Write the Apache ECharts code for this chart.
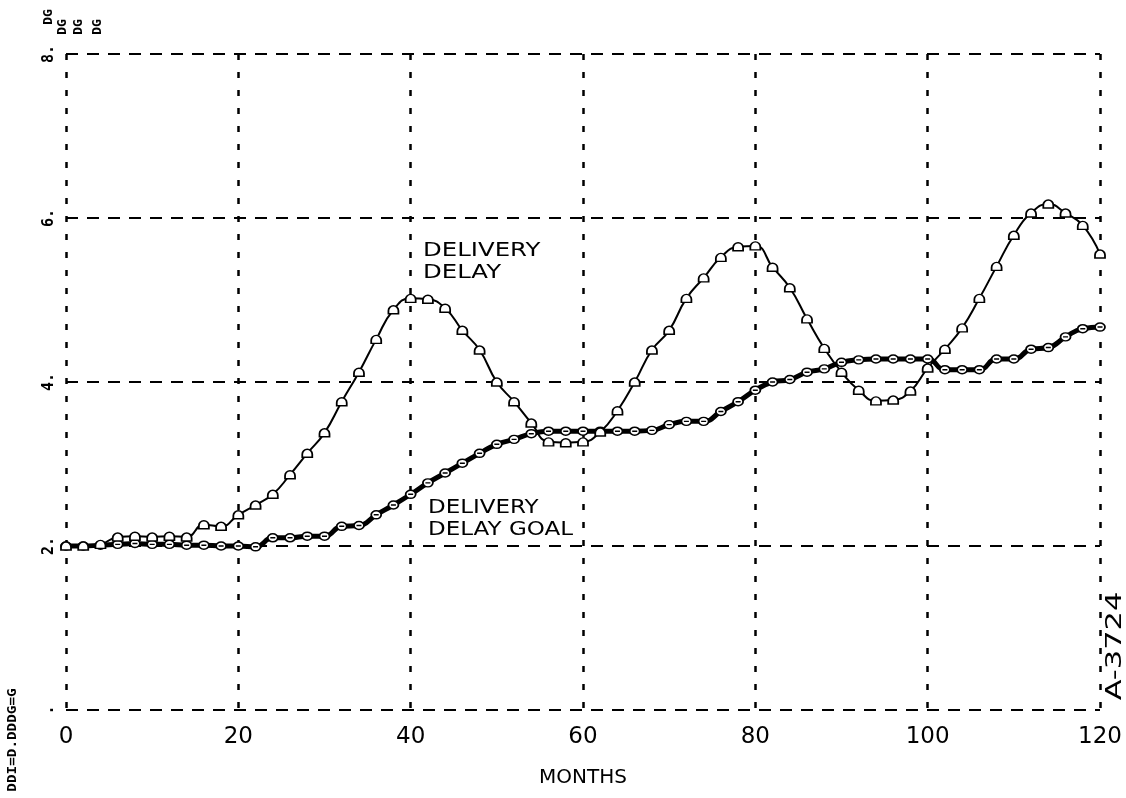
<!DOCTYPE html>
<html>
<head>
<meta charset="utf-8">
<script src="https://cdn.jsdelivr.net/npm/echarts@6/dist/echarts.min.js"></script>
<style>html,body{margin:0;padding:0;background:#fff;}#c{width:1126px;height:798px;}</style>
</head>
<body>
<div id="c"></div>
<script>
var months = [0,2,4,6,8,10,12,14,16,18,20,22,24,26,28,30,32,34,36,38,40,42,44,46,48,50,52,54,56,58,60,62,64,66,68,70,72,74,76,78,80,82,84,86,88,90,92,94,96,98,100,102,104,106,108,110,112,114,116,118,120];
var deliveryDelay = [2.0,2.0,2.02,2.11,2.12,2.11,2.12,2.11,2.26,2.24,2.38,2.5,2.63,2.87,3.13,3.38,3.76,4.12,4.52,4.88,5.02,5.01,4.9,4.63,4.39,4.0,3.76,3.5,3.27,3.26,3.27,3.39,3.65,4.0,4.39,4.63,5.02,5.27,5.52,5.65,5.66,5.4,5.15,4.77,4.41,4.12,3.9,3.77,3.78,3.89,4.17,4.4,4.66,5.02,5.41,5.79,6.06,6.17,6.06,5.91,5.56];
var deliveryDelayGoal = [2.0,2.0,2.01,2.02,2.03,2.02,2.02,2.01,2.01,2.0,2.0,1.99,2.1,2.1,2.12,2.12,2.24,2.25,2.38,2.5,2.63,2.77,2.89,3.01,3.13,3.24,3.3,3.37,3.4,3.4,3.4,3.4,3.4,3.4,3.41,3.48,3.52,3.52,3.64,3.76,3.9,4.0,4.03,4.12,4.16,4.24,4.27,4.28,4.28,4.28,4.28,4.15,4.15,4.15,4.28,4.28,4.4,4.42,4.55,4.65,4.67];
var xTicks = [0,20,40,60,80,100,120];
var yTickLabels = {0:'.',2:'2.',4:'4.',6:'6.',8:'8.'};

function pairs(vals){ return months.map(function(m,i){ return [m, vals[i]]; }); }

var symD = 'path://M0,8 L0,5 A5,5 0 0 1 10,5 L10,8 Z';
var symG = 'path://M0,4 A5,4 0 1 1 10,4 A5,4 0 1 1 0,4 Z M2.5,4 L7.5,4';

var chart = echarts.init(document.getElementById('c'), null, {renderer:'canvas'});
chart.setOption({
  backgroundColor:'#fff',
  animation:false,
  grid:{left:66, right:26, top:54, bottom:88, containLabel:false},
  xAxis:{
    type:'value', min:0, max:120, interval:20,
    axisLine:{show:false}, axisTick:{show:false},
    splitLine:{show:true, showMinLine:true, showMaxLine:true, lineStyle:{color:'#000', width:2.5, type:[6,12]}},
    axisLabel:{color:'#000', fontSize:23, fontFamily:'DejaVu Sans', margin:16},
    name:'MONTHS', nameLocation:'middle', nameGap:58,
    nameTextStyle:{color:'#000', fontSize:20, fontFamily:'DejaVu Sans'}
  },
  yAxis:{
    type:'value', min:0, max:8, interval:2,
    axisLine:{show:false}, axisTick:{show:false},
    splitLine:{show:true, showMinLine:true, showMaxLine:true, lineStyle:{color:'#000', width:2, type:[12,9]}},
    axisLabel:{color:'#000', fontSize:15, fontWeight:'bold', fontFamily:'DejaVu Sans Mono', rotate:90, margin:9,
      formatter:function(v){ return yTickLabels[v] !== undefined ? yTickLabels[v] : ''; }}
  },
  series:[
    {
      name:'DELIVERY DELAY GOAL', type:'line', smooth:0.5, data:pairs(deliveryDelayGoal),
      symbol:symG, symbolSize:[10,8], showAllSymbol:true,
      lineStyle:{color:'#000', width:5},
      itemStyle:{color:'#fff', borderColor:'#000', borderWidth:1.6},
      z:2
    },
    {
      name:'DELIVERY DELAY', type:'line', smooth:0.5, data:pairs(deliveryDelay),
      symbol:symD, symbolSize:[10,8], showAllSymbol:true,
      lineStyle:{color:'#000', width:2},
      itemStyle:{color:'#fff', borderColor:'#000', borderWidth:1.6},
      z:3
    }
  ],
  graphic:[
    {type:'text', x:423, y:240, scaleX:1.22, style:{text:'DELIVERY\nDELAY', font:'20px "DejaVu Sans"', fill:'#000', lineHeight:22}},
    {type:'text', x:428, y:497, scaleX:1.15, style:{text:'DELIVERY\nDELAY GOAL', font:'20px "DejaVu Sans"', fill:'#000', lineHeight:22}},
    {type:'text', x:49, y:17, rotation:Math.PI/2, style:{text:'DG', font:'bold 13px "DejaVu Sans Mono"', fill:'#000', align:'center', verticalAlign:'middle'}},
    {type:'text', x:63, y:27, rotation:Math.PI/2, style:{text:'DG', font:'bold 13px "DejaVu Sans Mono"', fill:'#000', align:'center', verticalAlign:'middle'}},
    {type:'text', x:79, y:27, rotation:Math.PI/2, style:{text:'DG', font:'bold 13px "DejaVu Sans Mono"', fill:'#000', align:'center', verticalAlign:'middle'}},
    {type:'text', x:98, y:27, rotation:Math.PI/2, style:{text:'DG', font:'bold 13px "DejaVu Sans Mono"', fill:'#000', align:'center', verticalAlign:'middle'}},
    {type:'text', x:13, y:740, rotation:Math.PI/2, scaleX:1.1, style:{text:'DDI=D.DDDG=G', font:'bold 13px "DejaVu Sans Mono"', fill:'#000', align:'center', verticalAlign:'middle'}},
    {type:'text', x:1116, y:646, rotation:Math.PI/2, scaleX:1.45, style:{text:'A-3724', font:'21px "DejaVu Sans"', fill:'#000', align:'center', verticalAlign:'middle'}}
  ]
});
</script>
</body>
</html>
